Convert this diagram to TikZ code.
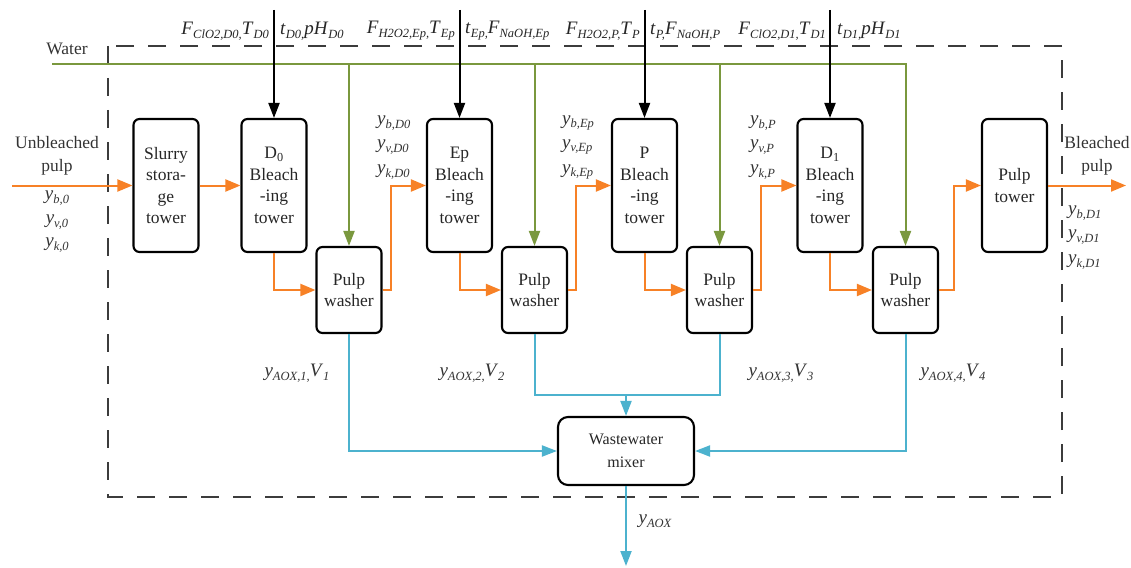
\documentclass[tikz,border=0pt]{standalone}
\usepackage{fontspec}
\setmainfont{Liberation Serif}
\usetikzlibrary{arrows.meta}
\definecolor{cor}{RGB}{247,129,38}
\definecolor{cgr}{RGB}{122,152,62}
\definecolor{cbl}{RGB}{76,178,206}
\definecolor{cdash}{RGB}{60,60,60}
\newcommand\sbx[1]{\raisebox{-0.45ex}{\fontsize{12.5}{13}\selectfont\itshape #1}}
\newcommand\lv[2]{\textit{#1}\sbx{#2}}
\begin{document}
\begin{tikzpicture}[x=1pt,y=-1pt,
  box/.style={draw, line width=2.1pt, rounded corners=6pt, inner sep=0pt, align=center,
    font=\fontsize{17.5}{21.5}\selectfont, text=black!85},
  tower/.style={box, minimum width=65pt, minimum height=133pt},
  washer/.style={box, minimum width=65pt, minimum height=86pt},
  mixbox/.style={box, minimum width=136pt, minimum height=68pt, rounded corners=10pt,
    font=\fontsize{16}{23}\selectfont},
  oraline/.style={draw=cor, line width=2pt, -{Triangle[length=15pt,width=12pt]}},
  grnline/.style={draw=cgr, line width=2pt, -{Triangle[length=15pt,width=11pt]}},
  bluline/.style={draw=cbl, line width=2pt, -{Triangle[length=15pt,width=11pt]}},
  blkline/.style={draw=black, line width=2pt, -{Triangle[length=15pt,width=11pt]}},
  lab/.style={font=\fontsize{19}{21}\selectfont, inner sep=0pt, text=black!80},
  toplab/.style={font=\fontsize{19}{21}\selectfont, inner sep=0pt, text=black!85}
]
\useasboundingbox (0,0) rectangle (1131,567);
% dashed boundary
\draw[cdash, line width=1.5pt, dash pattern=on 18pt off 14pt] (108,46) rectangle (1062,497);

% towers
\node[tower] (sl) at (166,185.5) {Slurry\\stora-\\ge\\tower};
\node[tower] (d0) at (274,185.5) {D\textsubscript{0}\\Bleach\\-ing\\tower};
\node[tower] (ep) at (459.5,185.5) {Ep\\Bleach\\-ing\\tower};
\node[tower] (pp) at (644.5,185.5) {P\\Bleach\\-ing\\tower};
\node[tower] (d1) at (830,185.5) {D\textsubscript{1}\\Bleach\\-ing\\tower};
\node[tower] (pt) at (1014.5,185.5) {Pulp\\tower};
% washers
\node[washer] (w1) at (349,290) {Pulp\\washer};
\node[washer] (w2) at (534.5,290) {Pulp\\washer};
\node[washer] (w3) at (719.5,290) {Pulp\\washer};
\node[washer] (w4) at (905.5,290) {Pulp\\washer};
% mixer
\node[mixbox] (mix) at (626,451) {Wastewater\\mixer};

% coordinates
\coordinate (pin) at (12,185.5);
\coordinate (pout) at (1126,185.5);
\coordinate (wst) at (52,64);
\coordinate (mj) at (626,395);
\coordinate (mout) at (626,566);
\coordinate (ttop) at (0,10);

% orange pulp flow
\draw[oraline] (pin) -- (sl.west);
\draw[oraline] (sl.east) -- (d0.west);
\draw[oraline] (d0.south) |- (w1.west);
\draw[oraline] (w1.east) -- ++(8,0) |- (ep.west);
\draw[oraline] (ep.south) |- (w2.west);
\draw[oraline] (w2.east) -- ++(8,0) |- (pp.west);
\draw[oraline] (pp.south) |- (w3.west);
\draw[oraline] (w3.east) -- ++(8,0) |- (d1.west);
\draw[oraline] (d1.south) |- (w4.west);
\draw[oraline] (w4.east) -- ++(15,0) |- (pt.west);
\draw[oraline] (pt.east) -- (pout);

% water
\draw[grnline] (wst) -- (w4.north |- wst) -- (w4.north);
\draw[grnline] (w1.north |- wst) -- (w1.north);
\draw[grnline] (w2.north |- wst) -- (w2.north);
\draw[grnline] (w3.north |- wst) -- (w3.north);

% chemicals
\draw[blkline] (d0.north |- ttop) -- (d0.north);
\draw[blkline] (ep.north |- ttop) -- (ep.north);
\draw[blkline] (pp.north |- ttop) -- (pp.north);
\draw[blkline] (d1.north |- ttop) -- (d1.north);

% wastewater
\draw[bluline] (w1.south) |- (mix.west);
\draw[bluline] (w4.south) |- (mix.east);
\draw[draw=cbl, line width=2pt] (w2.south) |- (w3.south |- mj) -- (w3.south);
\draw[bluline] (mj) -- (mix.north);
\draw[bluline] (mix.south) -- (mout);

% top labels
\node[toplab, anchor=east] (l1) at (269,31) {\lv{F}{ClO2,D0,}\lv{T}{D0}};
\node[toplab, anchor=west] (l2) at (280,31) {\lv{t}{D0,}\lv{pH}{D0}};
\node[toplab, anchor=east] (l3) at (455,31) {\lv{F}{H2O2,Ep,}\lv{T}{Ep}};
\node[toplab, anchor=west] (l4) at (465,31) {\lv{t}{Ep,}\lv{F}{NaOH,Ep}};
\node[toplab, anchor=east] (l5) at (640,31) {\lv{F}{H2O2,P,}\lv{T}{P}};
\node[toplab, anchor=west] (l6) at (650,31) {\lv{t}{P,}\lv{F}{NaOH,P}};
\node[toplab, anchor=east] (l7) at (826,31) {\lv{F}{ClO2,D1,}\lv{T}{D1}};
\node[toplab, anchor=west] (l8) at (837,31) {\lv{t}{D1,}\lv{pH}{D1}};

% water label
\node[lab, font=\fontsize{17.5}{20}\selectfont] (wl) at (67,49) {Water};

% inlet / outlet
\node[lab, align=center, font=\fontsize{17.5}{23}\selectfont] (unb) at (57,156) {Unbleached\\pulp};
\node[lab] (yb0) at (57,198) {\lv{y}{b,0}};
\node[lab] (yv0) at (57,222) {\lv{y}{v,0}};
\node[lab] (yk0) at (57,245) {\lv{y}{k,0}};
\node[lab, align=center, font=\fontsize{17.5}{23}\selectfont] (bl) at (1097,156) {Bleached\\pulp};
\node[lab, anchor=west] (ybd1) at (1068,213) {\lv{y}{b,D1}};
\node[lab, anchor=west] (yvd1) at (1068,237) {\lv{y}{v,D1}};
\node[lab, anchor=west] (ykd1) at (1068,262) {\lv{y}{k,D1}};

% interstage labels
\node[lab, anchor=west] (ybd0) at (377,123) {\lv{y}{b,D0}};
\node[lab, anchor=west] (yvd0) at (377,147) {\lv{y}{v,D0}};
\node[lab, anchor=west] (ykd0) at (377,172) {\lv{y}{k,D0}};
\node[lab, anchor=west] (ybep) at (562,123) {\lv{y}{b,Ep}};
\node[lab, anchor=west] (yvep) at (562,147) {\lv{y}{v,Ep}};
\node[lab, anchor=west] (ykep) at (562,172) {\lv{y}{k,Ep}};
\node[lab, anchor=west] (ybp) at (750,123) {\lv{y}{b,P}};
\node[lab, anchor=west] (yvp) at (750,147) {\lv{y}{v,P}};
\node[lab, anchor=west] (ykp) at (750,172) {\lv{y}{k,P}};

% AOX labels
\node[lab] (a1) at (297,373) {\lv{y}{AOX,1,}\lv{V}{1}};
\node[lab] (a2) at (472,373) {\lv{y}{AOX,2,}\lv{V}{2}};
\node[lab] (a3) at (781,373) {\lv{y}{AOX,3,}\lv{V}{3}};
\node[lab] (a4) at (953,373) {\lv{y}{AOX,4,}\lv{V}{4}};
\node[lab] (aox) at (655,521) {\lv{y}{AOX}};
\end{tikzpicture}
\end{document}
